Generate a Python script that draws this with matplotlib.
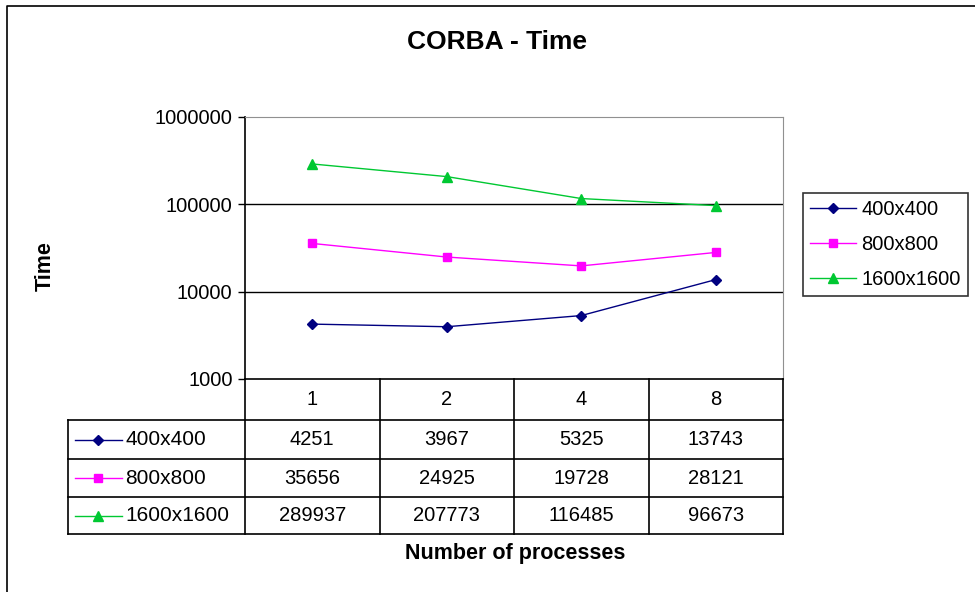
import matplotlib
matplotlib.use("Agg")
import matplotlib.pyplot as plt
from matplotlib.lines import Line2D

plt.rcParams['font.family'] = ['Liberation Sans', 'DejaVu Sans']

processes = ['1', '2', '4', '8']
series_names = ['400x400', '800x800', '1600x1600']
time_400 = [4251, 3967, 5325, 13743]
time_800 = [35656, 24925, 19728, 28121]
time_1600 = [289937, 207773, 116485, 96673]

colors = ['#000080', '#FF00FF', '#00C832']
markers = ['D', 's', '^']
msizes = [5, 6, 7]

W, H = 975, 592
fig = plt.figure(figsize=(W / 100, H / 100), dpi=100)


def fx(px):
    return px / W


def fy(py):
    return 1 - py / H


# plot area in pixel layout
left, right, top, bottom = 245, 783, 117, 379
ax = fig.add_axes([fx(left), fy(bottom), fx(right - left), (bottom - top) / H])
ax.set_yscale('log')
ax.set_ylim(1000, 1000000)
ax.set_xlim(-0.5, len(processes) - 0.5)

xs = range(len(processes))
all_series = [time_400, time_800, time_1600]
for vals, name, c, m, ms in zip(all_series, series_names, colors, markers, msizes):
    ax.plot(xs, vals, color=c, marker=m, markersize=ms, linewidth=1.0,
            label=name, zorder=3)

for v in [10000, 100000]:
    ax.axhline(v, color='black', linewidth=1.0, zorder=1)

ax.set_yticks([1000, 10000, 100000, 1000000])
ax.set_yticklabels(['1000', '10000', '100000', '1000000'])
ax.minorticks_off()
ax.tick_params(axis='y', direction='out', length=5, width=1, labelsize=14.5,
               pad=4, colors='black')
ax.set_xticks([])
ax.spines['top'].set_color('#909090')
ax.spines['right'].set_color('#909090')
ax.spines['left'].set_linewidth(1.2)
ax.spines['bottom'].set_linewidth(1.2)

fig.text(fx(497), fy(42), 'CORBA - Time', ha='center', va='center',
         fontsize=19, fontweight='bold')
fig.text(fx(45), fy(266), 'Time', ha='center', va='center', rotation=90,
         fontsize=15.5, fontweight='bold')
fig.text(fx(515), fy(553), 'Number of processes', ha='center', va='center',
         fontsize=15.5, fontweight='bold')

# overlay in pixel coordinates for the data table and outer frame
ov = fig.add_axes([0, 0, 1, 1], facecolor='none')
ov.set_xlim(0, W)
ov.set_ylim(H, 0)
ov.axis('off')

ov.plot([7, 7, W], [H, 6, 6], color='black', linewidth=1.2)

col_edges = [left + i * (right - left) / len(processes) for i in range(len(processes) + 1)]
row_edges = [379, 420, 459, 497, 534]
lab_left = 68
lw = 1.2

# header row
for xe in col_edges[1:]:
    ov.plot([xe, xe], [row_edges[0], row_edges[-1]], color='black', linewidth=lw)
ov.plot([left, left], [row_edges[0], row_edges[-1]], color='black', linewidth=lw)
ov.plot([lab_left, lab_left], [row_edges[1], row_edges[-1]], color='black', linewidth=lw)
for ye in row_edges[1:]:
    ov.plot([lab_left, right], [ye, ye], color='black', linewidth=lw)

for i, p in enumerate(processes):
    cx = (col_edges[i] + col_edges[i + 1]) / 2
    ov.text(cx, (row_edges[0] + row_edges[1]) / 2, p, ha='center', va='center',
            fontsize=14.5)

for r, (vals, name, c, m, ms) in enumerate(zip(all_series, series_names, colors,
                                                markers, msizes)):
    cy = (row_edges[r + 1] + row_edges[r + 2]) / 2
    ov.plot([75, 122], [cy, cy], color=c, linewidth=1.0)
    ov.plot([98], [cy], color=c, marker=m, markersize=ms)
    ov.text(125, cy, name, ha='left', va='center', fontsize=15)
    for i, v in enumerate(vals):
        cx = (col_edges[i] + col_edges[i + 1]) / 2
        ov.text(cx, cy, str(v), ha='center', va='center', fontsize=14.5)

handles = [Line2D([], [], color=c, marker=m, markersize=ms, linewidth=1.0)
           for c, m, ms in zip(colors, markers, msizes)]
leg = fig.legend(handles, series_names, loc='upper left',
                 bbox_to_anchor=(fx(803), fy(193)), fontsize=14.5,
                 frameon=True, fancybox=False, edgecolor='black',
                 handlelength=2.3, handletextpad=0.25, labelspacing=0.8,
                 borderpad=0.35, borderaxespad=0)
leg.get_frame().set_linewidth(1.2)

fig.savefig('out.png', dpi=100)
